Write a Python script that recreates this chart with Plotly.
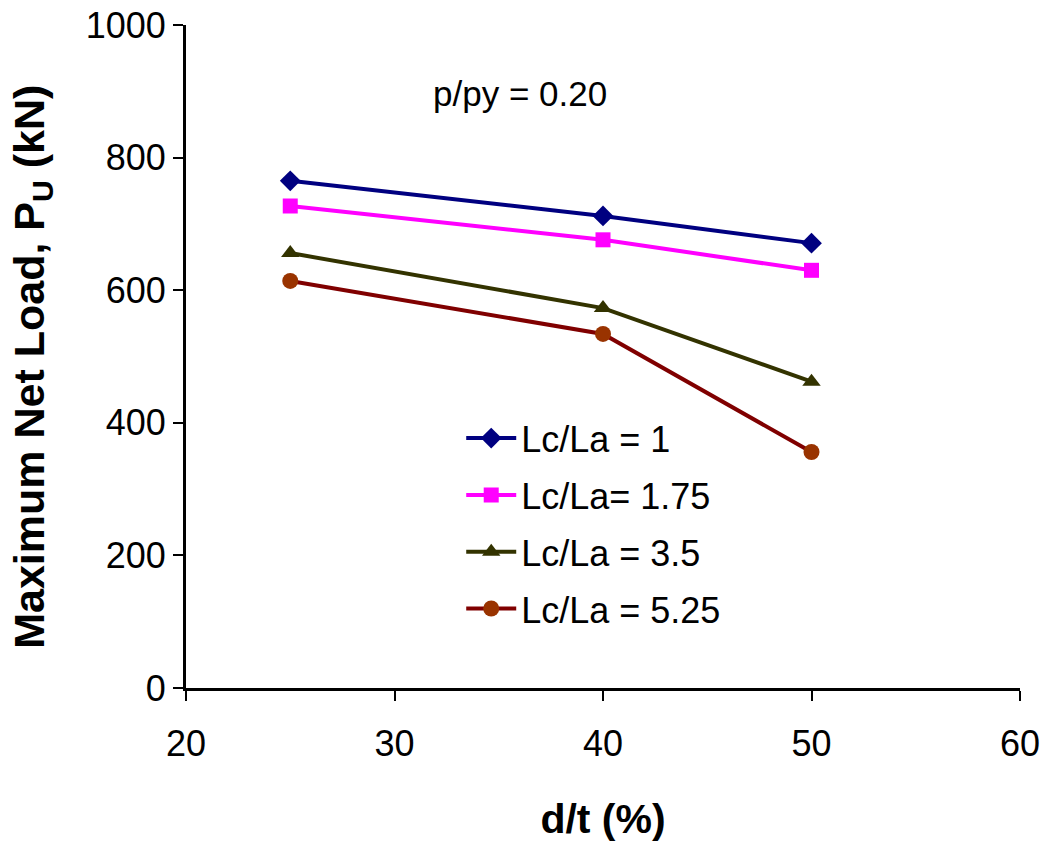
import plotly.graph_objects as go

# d/t (%) values at which the net load was measured
dt_pct = [25, 40, 50]

# Maximum net load (kN) for each Lc/La ratio, p/py = 0.20
load_lc1 = [765, 712, 671]
load_lc175 = [727, 676, 630]
load_lc35 = [656, 573, 462]
load_lc525 = [614, 534, 356]

series_names = ["Lc/La = 1", "Lc/La= 1.75", "Lc/La = 3.5", "Lc/La = 5.25"]
x_ticks = [20, 30, 40, 50, 60]
y_ticks = [0, 200, 400, 600, 800, 1000]

FONT = "Liberation Sans, Arial, sans-serif"

styles = [
    dict(line="#000080", marker="#000080", symbol="diamond", size=16),
    dict(line="#FF00FF", marker="#FF00FF", symbol="square", size=15),
    dict(line="#333300", marker="#333300", symbol="triangle-up", size=16),
    dict(line="#800000", marker="#993300", symbol="circle", size=16),
]

fig = go.Figure()
for i, (name, vals, st) in enumerate(zip(series_names, [load_lc1, load_lc175, load_lc35, load_lc525], styles)):
    fig.add_trace(go.Scatter(
        x=dt_pct, y=vals, name=name, mode="lines+markers", legendgroup=f"g{i}",
        line=dict(color=st["line"], width=4),
        marker=dict(color=st["marker"], symbol=st["symbol"], size=st["size"],
                    line=dict(width=0)),
    ))

fig.add_annotation(
    x=0.40, y=0.897, xref="paper", yref="paper", xanchor="center", yanchor="middle",
    text="p/py = 0.20", showarrow=False,
    font=dict(family=FONT, size=35, color="black"),
)

# Y-axis title placed as a rotated annotation left of the tick labels
fig.add_annotation(
    x=-0.185, y=0.484, xref="paper", yref="paper", xanchor="center", yanchor="middle",
    text="<b>Maximum Net Load, P<sub>U</sub> (kN)</b>", textangle=-90, showarrow=False,
    font=dict(family=FONT, size=43, color="black"),
)

fig.update_layout(
    width=1049, height=842,
    margin=dict(l=186, r=29, t=25, b=154),
    paper_bgcolor="white", plot_bgcolor="white",
    font=dict(family=FONT, color="black"),
    showlegend=True,
    legend=dict(
        x=0.33, y=0.422, xanchor="left", yanchor="top",
        font=dict(family=FONT, size=36, color="black"),
        bgcolor="rgba(0,0,0,0)", tracegroupgap=7, itemwidth=50,
    ),
    xaxis=dict(
        range=[20, 60], tickvals=x_ticks, ticktext=[str(v) for v in x_ticks],
        showgrid=False, zeroline=False, showline=True, linecolor="black", linewidth=3,
        ticks="outside", ticklen=10, tickwidth=2, tickcolor="black",
        tickfont=dict(family=FONT, size=36, color="black"), ticklabelstandoff=12,
        automargin=False,
        title=dict(text="<b>d/t (%)</b>", font=dict(family=FONT, size=41, color="black"),
                   standoff=48),
    ),
    yaxis=dict(
        range=[0, 1000], tickvals=y_ticks, ticktext=[str(v) for v in y_ticks],
        showgrid=False, zeroline=False, showline=True, linecolor="black", linewidth=3,
        ticks="outside", ticklen=10, tickwidth=2, tickcolor="black",
        tickfont=dict(family=FONT, size=36, color="black"),
        automargin=False,
    ),
)

fig.write_html("out.html")
